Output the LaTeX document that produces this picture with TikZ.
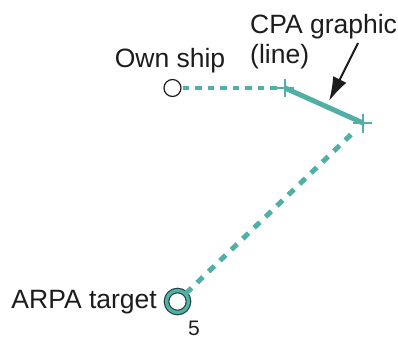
\documentclass[tikz,border=0pt]{standalone}
\usepackage{fontspec}
\setmainfont{Liberation Sans}
\usetikzlibrary{arrows.meta,positioning,calc}
\definecolor{cpa-teal}{HTML}{50B0A6}
\definecolor{cpa-dark}{HTML}{1C1C1C}
\definecolor{cpa-ring}{HTML}{1F3B3A}

\begin{document}
\begin{tikzpicture}[
    x=1pt, y=-1pt,
    font=\fontsize{26.5}{30.5}\selectfont,
    >=latex
  ]

  % Styles for ships, vectors and labels
  \tikzset{
    ship/.style={circle, draw=cpa-dark, fill=white, line width=1.2pt, minimum size=17pt, inner sep=0pt},
    target/.style={circle, draw=cpa-ring, double=cpa-teal, double distance=3.4pt, line width=1.1pt, fill=white, minimum size=22pt, inner sep=0pt},
    ownvector/.style={cpa-teal, line width=4.2pt, dash pattern=on 6.5pt off 6pt},
    tgtvector/.style={cpa-teal, line width=5pt, dash pattern=on 8pt off 7.8pt},
    cpaline/.style={cpa-teal, line width=5pt},
    tick/.style={cpa-teal, line width=1.9pt},
    label/.style={inner sep=0pt, text=cpa-dark}
  }
  \useasboundingbox (0,0) rectangle (398,338);

  % Own ship, target and CPA points
  \node (ownship) [ship] at (172.5,88) {};
  \node (target)  [target] at (177.5,301.5) {};
  \coordinate (cpastart) at (285,88);
  \coordinate (cpaend)   at (363,123);

  % Vectors
  \draw[ownvector, shorten <=1pt, shorten >=4pt] (ownship) -- (cpastart);
  \draw[tgtvector, shorten >=10pt] (target) -- (cpaend);
  \draw[cpaline] (cpastart) -- (cpaend);

  % Tick marks at both ends of the CPA line
  \draw[tick] ($(cpastart)+(-8,0)$) -- ($(cpastart)+(9,0)$);
  \draw[tick] ($(cpastart)+(0,-9)$) -- ($(cpastart)+(0,9)$);
  \draw[tick] ($(cpaend)+(-10,0)$) -- ($(cpaend)+(9,0)$);
  \draw[tick] ($(cpaend)+(0,-9.5)$) -- ($(cpaend)+(0,9.5)$);

  % Labels
  \node (ownlabel) [label, anchor=base] at (170,67) {Own ship};
  \node (tgtlabel) [label, anchor=base east] at (157,308) {ARPA target};
  \node (tgtnum)   [label, anchor=base west, font=\fontsize{21}{22}\selectfont] at (188,335) {5};
  \node (cpalabel) [label, anchor=north west, align=left] at (250,14) {CPA graphic\\(line)};

  % Pointer to the CPA line
  \coordinate (arrowtail) at (358,43);
  \coordinate (arrowtip)  at (329,101);
  \draw[-{Latex[length=24pt,width=15pt]}, cpa-dark, line width=2pt] (arrowtail) -- (arrowtip);

\end{tikzpicture}
\end{document}
